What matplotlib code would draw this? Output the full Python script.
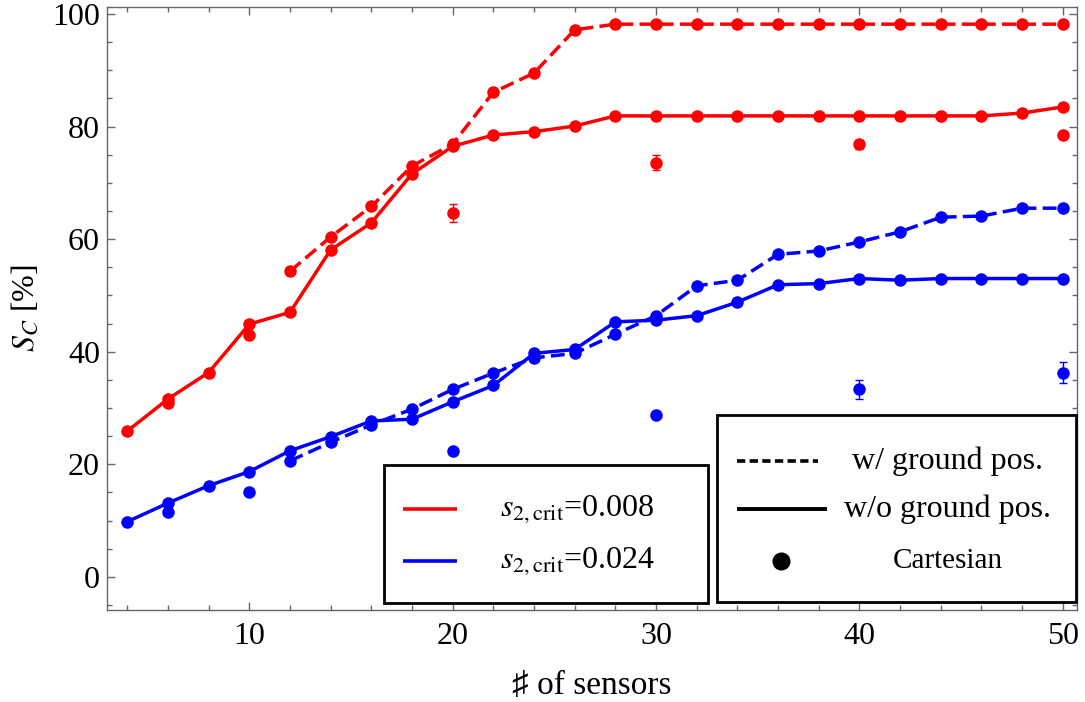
import matplotlib
matplotlib.use('Agg')
import matplotlib.pyplot as plt
from matplotlib.lines import Line2D
from matplotlib.patches import Rectangle
from matplotlib.ticker import MultipleLocator

plt.rcParams['font.family'] = ['Liberation Serif', 'DejaVu Sans']
plt.rcParams['mathtext.fontset'] = 'stix'

# ---------------- data ----------------
n_full = [4, 6, 8, 10, 12, 14, 16, 18, 20, 22, 24, 26, 28, 30, 32, 34, 36, 38, 40, 42, 44, 46, 48, 50]
red_wo = [25.9, 31.6, 36.3, 44.9, 47.0, 58.1, 62.9, 71.6, 76.5, 78.5, 79.1, 80.1,
          81.9, 81.9, 81.9, 81.9, 81.9, 81.9, 81.9, 81.9, 81.9, 81.9, 82.4, 83.5]
blue_wo = [9.8, 13.1, 16.2, 18.7, 22.4, 24.9, 27.7, 28.0, 31.1, 34.0, 39.7, 40.4,
           45.3, 45.6, 46.4, 48.8, 51.9, 52.1, 53.0, 52.7, 53.0, 53.0, 53.0, 53.0]

n_w = [12, 14, 16, 18, 20, 22, 24, 26, 28, 30, 32, 34, 36, 38, 40, 42, 44, 46, 48, 50]
red_w = [54.3, 60.4, 65.8, 73.0, 76.9, 86.1, 89.5, 97.2,
         98.2, 98.2, 98.2, 98.2, 98.2, 98.2, 98.2, 98.2, 98.2, 98.2, 98.2, 98.2]
blue_w = [20.6, 23.9, 27.0, 29.8, 33.3, 36.2, 38.9, 39.7, 43.1, 46.4, 51.7, 52.7,
          57.3, 57.9, 59.5, 61.3, 63.9, 64.1, 65.5, 65.5]

n_cart = [6, 10, 20, 30, 40, 50]
red_cart = [30.9, 42.9, 64.7, 73.6, 76.9, 78.5]
red_cart_err = [0.3, 0.3, 1.6, 1.3, 0.8, 0.6]
blue_cart = [11.6, 15.1, 22.4, 28.8, 33.3, 36.3]
blue_cart_err = [0.3, 0.3, 0.3, 0.6, 1.7, 1.9]

series_labels = [r'$s_{2,\mathrm{crit}}$=0.008', r'$s_{2,\mathrm{crit}}$=0.024']
style_labels = ['w/ ground pos.', 'w/o ground pos.', 'Cartesian']
x_ticks = [10, 20, 30, 40, 50]
y_ticks = [0, 20, 40, 60, 80, 100]

RED = '#FF0000'
BLUE = '#0000FF'
FRAME = '#666666'

W, H = 1085, 702
fig = plt.figure(figsize=(W / 100, H / 100), dpi=100)
ax = fig.add_axes([107 / W, (H - 610) / H, 970 / W, 603 / H])

lw = 2.5
ms = 8
dash = (0, (4, 1.8))
for ys, c in [(red_wo, RED), (blue_wo, BLUE)]:
    ax.plot(n_full, ys, color=c, lw=lw, marker='o', ms=ms, zorder=3)
for ys, c in [(red_w, RED), (blue_w, BLUE)]:
    ax.plot(n_w, ys, color=c, lw=lw, ls=dash, marker='o', ms=ms, zorder=3)
for ys, es, c in [(red_cart, red_cart_err, RED), (blue_cart, blue_cart_err, BLUE)]:
    ax.errorbar(n_cart, ys, yerr=es, fmt='o', color=c, ms=ms, elinewidth=1.0,
                capsize=3, capthick=1.0, zorder=3)

ax.set_xlim(3.0, 50.7)
ax.set_ylim(-5.9, 101.25)
ax.set_xticks(x_ticks)
ax.set_yticks(y_ticks)
ax.xaxis.set_minor_locator(MultipleLocator(2))
ax.yaxis.set_minor_locator(MultipleLocator(5))
ax.tick_params(which='both', direction='in', top=True, right=True, color=FRAME,
               width=1.0, labelsize=23)
ax.tick_params(which='major', length=6)
ax.tick_params(which='minor', length=3.5)
ax.tick_params(axis='x', pad=9)
ax.tick_params(axis='y', pad=5)
for s in ax.spines.values():
    s.set_color(FRAME)
    s.set_linewidth(1.0)

ax.set_xlabel('♯ of sensors', fontsize=24, labelpad=14)
ax.set_ylabel(r'$S_C$ [%]', fontsize=23, labelpad=8)


def P(x, y):
    return (x / W, 1 - y / H)


def box(x0, y0, x1, y1):
    r = Rectangle(P(x0, y1), (x1 - x0) / W, (y1 - y0) / H, transform=fig.transFigure,
                  facecolor='white', edgecolor='black', lw=2.0, zorder=10)
    fig.add_artist(r)


def hline(x0, x1, y, **kw):
    xa, ya = P(x0, y)
    xb, _ = P(x1, y)
    fig.add_artist(Line2D([xa, xb], [ya, ya], transform=fig.transFigure, zorder=11, **kw))


# left legend (colours)
box(384, 465, 708, 603)
for (c, lab, yy) in [(RED, series_labels[0], 509), (BLUE, series_labels[1], 561)]:
    hline(403, 457, yy, color=c, lw=2.6, solid_capstyle='butt')
    fig.text(*P(500, yy), lab, fontsize=23, ha='left', va='center', zorder=12)

# right legend (styles)
box(717, 415, 1076, 602)
hline(737, 818, 461, color='black', lw=2.6, ls=(0, (2.3, 1.2)))
hline(737, 827, 509, color='black', lw=2.8, solid_capstyle='butt')
mx, my = P(781, 561)
fig.add_artist(Line2D([mx], [my], transform=fig.transFigure, marker='o', ms=12,
                      color='black', ls='none', zorder=11))
fig.text(*P(948, 461), style_labels[0], fontsize=23, ha='center', va='center', zorder=12)
fig.text(*P(948, 509), style_labels[1], fontsize=23, ha='center', va='center', zorder=12)
fig.text(*P(948, 561), style_labels[2], fontsize=21, ha='center', va='center', zorder=12)

fig.savefig('out.png', dpi=100)
